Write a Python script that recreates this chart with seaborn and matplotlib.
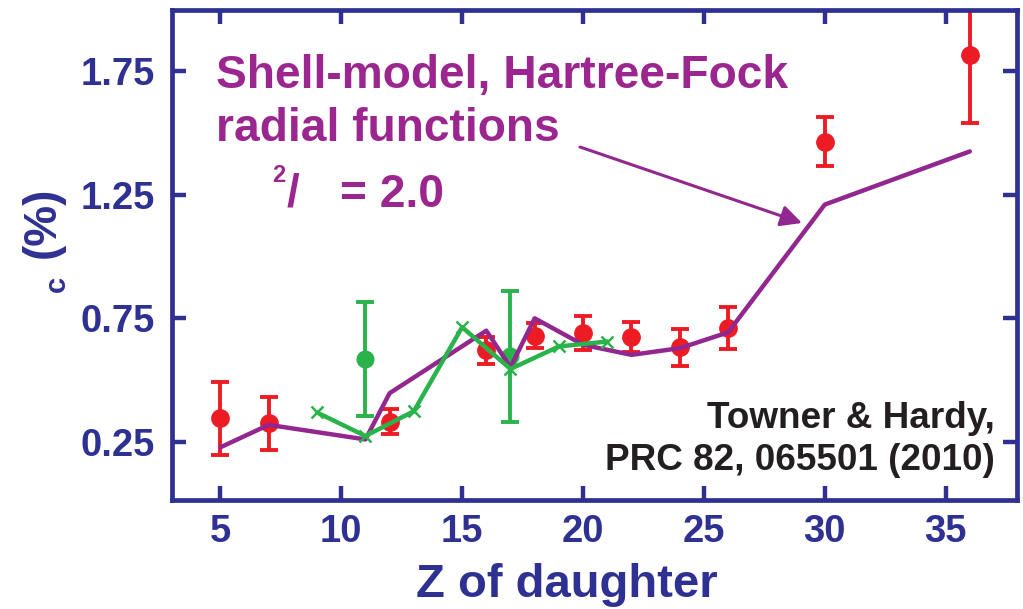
import matplotlib
matplotlib.use("Agg")
import matplotlib.pyplot as plt
import seaborn as sns
import pandas as pd

# ---------------- data ----------------
exp_z = [5, 7, 12, 16, 18, 20, 22, 24, 26, 30, 36]
exp_dc = [0.345, 0.325, 0.332, 0.62, 0.68, 0.69, 0.675, 0.632, 0.71, 1.465, 1.815]
exp_err = [0.148, 0.107, 0.05, 0.053, 0.052, 0.068, 0.06, 0.074, 0.085, 0.10, 0.275]

green_pt_z = [11, 17]
green_pt_dc = [0.585, 0.597]
green_pt_err = [0.232, 0.265]

theory_z = [5, 7, 11, 12, 16, 17, 18, 20, 22, 24, 26, 30, 36]
theory_dc = [0.228, 0.319, 0.26, 0.447, 0.70, 0.552, 0.75, 0.643, 0.602, 0.629, 0.693, 1.21, 1.425]

green_z = [9, 11, 13, 15, 17, 19, 21]
green_dc = [0.369, 0.274, 0.374, 0.714, 0.545, 0.636, 0.656]

x_ticks = [5, 10, 15, 20, 25, 30, 35]
y_ticks = [0.25, 0.75, 1.25, 1.75]

# ---------------- style ----------------
NAVY = "#2E3192"
RED = "#ED1C24"
GREEN = "#2AB24B"
PURPLE = "#92278F"
TXT_PURPLE = "#9B268F"
DARK = "#231F20"

sns.set_theme(style="white")
plt.rcParams["font.family"] = ["Liberation Sans", "DejaVu Sans"]
plt.rcParams["font.weight"] = "bold"

W, H = 1023, 609
fig = plt.figure(figsize=(W / 100, H / 100), dpi=100)
ax = fig.add_axes([172 / W, 1 - 500 / H, (1017 - 172) / W, (500 - 10) / H])

df_theory = pd.DataFrame({"Z": theory_z, "dc": theory_dc})
df_green = pd.DataFrame({"Z": green_z, "dc": green_dc})

ax.errorbar(exp_z, exp_dc, yerr=exp_err, fmt="o", color=RED, ms=12.5, elinewidth=2.8,
            capsize=6.5, capthick=2.8, zorder=2)
ax.errorbar(green_pt_z, green_pt_dc, yerr=green_pt_err, fmt="o", color=GREEN, ms=12,
            elinewidth=2.8, capsize=6.5, capthick=2.8, zorder=2)
sns.lineplot(data=df_theory, x="Z", y="dc", ax=ax, color=PURPLE, lw=3.2, zorder=3)
sns.lineplot(data=df_green, x="Z", y="dc", ax=ax, color=GREEN, lw=3.2, marker="x",
             markersize=9, markeredgewidth=1.8, markeredgecolor=GREEN, zorder=4)

ax.set_xlim(3.0, 37.95)
ax.set_ylim(0.015, 1.997)
ax.set_xticks(x_ticks)
ax.set_yticks(y_ticks)
ax.set_yticklabels([f"{v:.2f}" for v in y_ticks])
ax.set_xlabel("")
ax.set_ylabel("")

for sp in ax.spines.values():
    sp.set_color(NAVY)
    sp.set_linewidth(3.4)
ax.tick_params(axis="both", which="major", direction="in", length=10, width=3.2,
               color=NAVY, top=True, right=True, bottom=True, left=True,
               labelcolor=NAVY, labelsize=27.5)
ax.tick_params(axis="x", pad=10)
ax.tick_params(axis="y", pad=12)
for lab in ax.get_xticklabels() + ax.get_yticklabels():
    lab.set_fontweight("bold")

# axis labels
fig.text(567 / W, 1 - 585 / H, "Z of daughter", color=NAVY, fontsize=34,
         fontweight="bold", ha="center", va="center")
fig.text(43 / W, 1 - 222 / H, "(%)", color=NAVY, fontsize=33, fontweight="bold",
         rotation=90, ha="center", va="center")
fig.text(57 / W, 1 - 284 / H, "c", color=NAVY, fontsize=21, fontweight="bold",
         rotation=90, ha="center", va="center")

# annotations
fig.text(216 / W, 1 - 88 / H, "Shell-model, Hartree-Fock", color=TXT_PURPLE,
         fontsize=33.2, fontweight="bold", ha="left", va="baseline")
fig.text(216 / W, 1 - 141 / H, "radial functions", color=TXT_PURPLE,
         fontsize=33.2, fontweight="bold", ha="left", va="baseline")
fig.text(272 / W, 1 - 182 / H, "2", color=TXT_PURPLE, fontsize=17,
         fontweight="bold", ha="left", va="baseline")
fig.text(287 / W, 1 - 207 / H, "/", color=TXT_PURPLE, fontsize=33,
         fontweight="bold", ha="left", va="baseline")
fig.text(340 / W, 1 - 207 / H, "= 2.0", color=TXT_PURPLE, fontsize=33.2,
         fontweight="bold", ha="left", va="baseline")

ax.annotate("", xy=(802 / W, 1 - 223 / H), xytext=(580 / W, 1 - 147 / H),
            xycoords="figure fraction", textcoords="figure fraction",
            arrowprops=dict(arrowstyle="-|>", color=PURPLE, lw=2.2,
                            mutation_scale=32, shrinkA=0, shrinkB=0))

fig.text(995 / W, 1 - 428 / H, "Towner & Hardy,", color=DARK, fontsize=26.6,
         fontweight="bold", ha="right", va="baseline")
fig.text(995 / W, 1 - 470 / H, "PRC 82, 065501 (2010)", color=DARK, fontsize=26.6,
         fontweight="bold", ha="right", va="baseline")

fig.savefig("out.png", dpi=100)
